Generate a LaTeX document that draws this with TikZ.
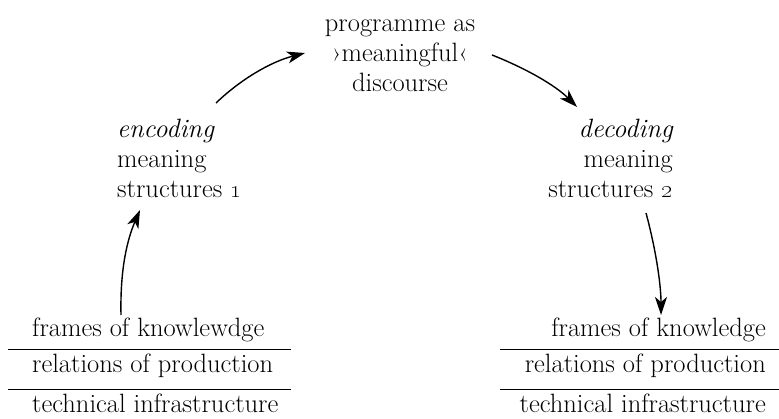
\documentclass[tikz,border=0pt]{standalone}
\usetikzlibrary{arrows.meta}
\begin{document}
\begin{tikzpicture}[x=1pt,y=-1pt,
  txt/.style={inner sep=0pt,font=\fontsize{26.5}{32}\selectfont},
  arr/.style={line width=1.4pt,-{Stealth[length=18pt,width=12pt,inset=5pt]}},
  rule/.style={line width=1pt}]
\useasboundingbox[fill=white] (0,0) rectangle (779,419);
% top
\node[txt,anchor=base] (p1) at (400,32) {programme as};
\node[txt,anchor=base] (p2) at (400,62) {›meaningful‹};
\node[txt,anchor=base] (p3) at (400,92) {discourse};
% left
\node[txt,anchor=base west] (e1) at (117,138) {\itshape encoding};
\node[txt,anchor=base west] (e2) at (117,168) {meaning};
\node[txt,anchor=base west] (e3) at (117,198) {structures \oldstylenums{1}};
% right
\node[txt,anchor=base east] (d1) at (673,138) {\itshape decoding};
\node[txt,anchor=base east] (d2) at (673,168) {meaning};
\node[txt,anchor=base east] (d3) at (673,198) {structures \oldstylenums{2}};
% bottom left stack
\node[txt,anchor=base west] (l1) at (32,337) {frames of knowlewdge};
\node[txt,anchor=base west] (l2) at (32,373) {relations of production};
\node[txt,anchor=base west] (l3) at (32,413) {technical infrastructure};
\coordinate (la1) at (8,350); \coordinate (lb1) at (291,350);
\coordinate (la2) at (8,390); \coordinate (lb2) at (291,390);
\draw[rule] (la1) -- (lb1);
\draw[rule] (la2) -- (lb2);
% bottom right stack
\node[txt,anchor=base east] (r1) at (766,337) {frames of knowledge};
\node[txt,anchor=base east] (r2) at (766,373) {relations of production};
\node[txt,anchor=base east] (r3) at (766,413) {technical infrastructure};
\coordinate (ra1) at (500,350); \coordinate (rb1) at (779,350);
\coordinate (ra2) at (500,390); \coordinate (rb2) at (779,390);
\draw[rule] (ra1) -- (rb1);
\draw[rule] (ra2) -- (rb2);
% arrows
\coordinate (a1s) at (121,315); \coordinate (a1e) at (140,210);
\coordinate (a2s) at (216,103); \coordinate (a2e) at (305,53);
\coordinate (a3s) at (492,55);  \coordinate (a3e) at (577,107);
\coordinate (a4s) at (646,213); \coordinate (a4e) at (661,315);
\draw[arr] (a1s) .. controls (120,270) and (127,240) .. (a1e);
\draw[arr] (a2s) .. controls (240,80) and (270,62) .. (a2e);
\draw[arr] (a3s) .. controls (525,68) and (555,85) .. (a3e);
\draw[arr] (a4s) .. controls (656,250) and (661,285) .. (a4e);
\end{tikzpicture}
\end{document}
